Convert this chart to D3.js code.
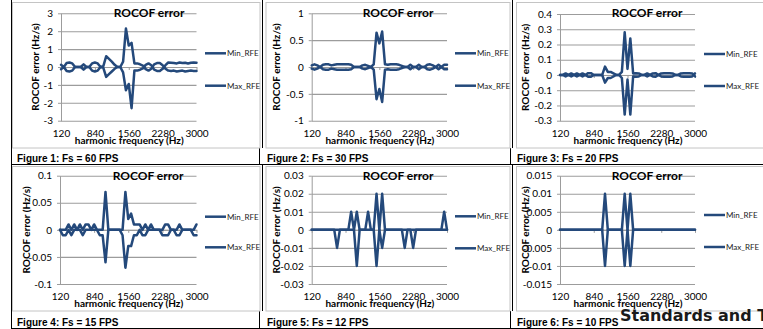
<!DOCTYPE html>
<html>
<meta charset="utf-8">
<head>
<script src="https://cdnjs.cloudflare.com/ajax/libs/d3/7.8.5/d3.min.js"></script>
<style>
  body { margin: 0; background: #fff; }
  svg { display: block; }
</style>
</head>
<body>
<script>
// harmonic frequency categories (Hz)
const freqs = [120, 180, 240, 300, 360, 420, 480, 540, 600, 660, 720, 780, 840, 900, 960, 1020,
  1080, 1140, 1200, 1260, 1320, 1380, 1440, 1500, 1560, 1620, 1680, 1740, 1800, 1860, 1920,
  1980, 2040, 2100, 2160, 2220, 2280, 2340, 2400, 2460, 2520, 2580, 2640, 2700, 2760, 2820,
  2880, 2940, 3000];
const xTickLabels = [120, 840, 1560, 2280, 3000];
const seriesNames = ["Min_RFE", "Max_RFE"];
const captions = ["Figure 1: Fs = 60 FPS", "Figure 2: Fs = 30 FPS", "Figure 3: Fs = 20 FPS",
  "Figure 4: Fs = 15 FPS", "Figure 5: Fs = 12 FPS", "Figure 6: Fs = 10 FPS"];

// Fs = 60
const max60 = [0.12, 0, 0.22, 0.25, 0.2, 0, 0, 0, 0.15, 0, 0, 0.2, 0.25, 0.2, 0, 0.05,
  0.6, 0.45, 0.3, 0.12, 0, 0, 0.3, 2.15, 1.2, 1.35, 0.2, 0.2, 0.15, 0.08, -0.12, -0.2,
  -0.1, 0.15, 0.22, 0.22, 0.1, -0.1, -0.2, -0.22, -0.2, -0.25, -0.22, -0.2, -0.25, -0.22,
  -0.2, -0.22, -0.22];
const min60 = [-0.12, 0, -0.22, -0.25, -0.2, 0, 0, 0, -0.15, 0, 0, -0.2, -0.25, -0.2, 0, -0.05,
  -0.55, -0.4, -0.25, -0.1, 0, 0, -0.3, -1.3, -0.95, -2.3, -0.2, -0.2, -0.15, -0.08, 0.12, 0.2,
  0.1, -0.15, -0.22, -0.22, -0.1, 0.1, 0.25, 0.24, 0.22, 0.2, 0.25, 0.22, 0.24, 0.2,
  0.24, 0.25, 0.24];
// Fs = 30
const max30 = [0.03, 0.05, 0.03, 0, 0.04, 0.05, 0.05, 0.03, 0.04, 0.05, 0.05, 0.05, 0.05, 0.05, 0.04, 0,
  0, 0, 0.03, 0.04, 0.02, 0, 0.05, 0.64, 0.44, 0.66, 0.05, 0.04, 0.05, 0.05, 0.05, 0.04,
  0.02, 0, 0, 0.04, 0, 0, 0.04, 0, 0, 0.04, 0.05, 0.03, 0, 0.04, 0, 0.04, 0.04];
const min30 = [-0.03, -0.05, -0.03, 0, -0.04, -0.05, -0.05, -0.03, -0.04, -0.05, -0.05, -0.05, -0.05, -0.05, -0.04, 0,
  0, 0, -0.03, -0.04, -0.02, 0, -0.05, -0.6, -0.41, -0.65, -0.05, -0.04, -0.05, -0.05, -0.05, -0.04,
  -0.02, 0, 0, -0.04, 0, 0, -0.04, 0, 0, -0.04, -0.05, -0.03, 0, -0.04, 0, -0.04, -0.04];
// Fs = 20
const max20 = [0, 0, 0.01, 0, 0.01, 0, 0.01, 0, 0.01, 0, 0.012, 0.012, 0, 0, 0, 0,
  0.055, 0.02, 0.02, 0.01, 0, 0, 0.02, 0.28, 0.04, 0.24, 0.01, 0.012, 0.01, 0, 0, 0.01,
  0, 0.01, 0.012, 0, 0.01, 0.012, 0.012, 0.012, 0.01, 0, 0, 0.01, 0.012, 0.012, 0.012, 0.01, -0.01];
const min20 = [0, 0, -0.01, 0, -0.01, 0, -0.01, 0, -0.01, 0, -0.012, -0.012, 0, 0, 0, 0,
  -0.05, -0.02, -0.02, -0.01, 0, 0, -0.02, -0.26, -0.03, -0.26, -0.01, -0.012, -0.01, 0, 0, -0.01,
  0, -0.01, -0.012, 0, -0.01, -0.012, -0.012, -0.012, -0.01, 0, 0, -0.01, -0.012, -0.012, -0.012, -0.01, 0.01];
// Fs = 15
const max15 = [0, 0, 0, 0.01, 0, 0.01, 0, 0.01, 0, 0.01, 0.01, 0, 0.01, 0, 0, 0,
  0.07, 0, 0, 0, 0, 0, 0, 0.07, 0.02, 0.03, 0.01, 0.01, 0.01, 0, 0.01, 0,
  0.01, 0, 0, 0, 0, 0.01, 0.01, 0, 0, 0, 0.01, 0, 0, 0, 0, 0, 0.01];
const min15 = [0, -0.01, -0.01, 0, -0.01, 0, 0, 0, -0.01, 0, 0, 0, 0, 0, -0.01, -0.01,
  -0.06, 0, 0, 0, 0, 0, -0.01, -0.07, -0.03, -0.03, -0.01, -0.01, 0, -0.01, -0.01, 0,
  0, 0, 0, 0, -0.01, -0.01, -0.01, 0, 0, -0.01, -0.01, 0, 0, 0, 0, -0.01, -0.01];
// Fs = 12
const max12 = [0, 0, 0, 0, 0, 0, 0, 0, 0, 0, 0, 0, 0, 0, 0.01, 0,
  0.01, 0, 0, 0, 0.01, 0, 0, 0.02, 0, 0.02, 0, 0, 0, 0, 0, 0,
  0, 0, 0, 0, 0, 0, 0, 0, 0, 0, 0, 0, 0, 0, 0, 0.01, 0];
const min12 = [0, 0, 0, 0, 0, 0, 0, 0, 0, -0.01, 0, 0, 0, 0, 0, 0,
  -0.02, 0, 0, 0, 0, 0, 0, -0.02, 0, -0.01, 0, 0, 0, 0, 0, 0,
  0, -0.01, 0, 0, -0.01, 0, 0, 0, 0, 0, 0, 0, 0, 0, 0, 0, 0];
// Fs = 10
const max10 = [0, 0, 0, 0, 0, 0, 0, 0, 0, 0, 0, 0, 0, 0, 0, 0,
  0.01, 0, 0, 0, 0, 0, 0, 0.01, 0, 0.01, 0, 0, 0, 0, 0, 0,
  0, 0, 0, 0, 0, 0, 0, 0, 0, 0, 0, 0, 0, 0, 0, 0, 0];
const min10 = [0, 0, 0, 0, 0, 0, 0, 0, 0, 0, 0, 0, 0, 0, 0, 0,
  -0.01, 0, 0, 0, 0, 0, 0, -0.01, 0, -0.01, 0, 0, 0, 0, 0, 0,
  0, 0, 0, 0, 0, 0, 0, 0, 0, 0, 0, 0, 0, 0, 0, 0, 0];

const yTicks60 = [-3, -2, -1, 0, 1, 2, 3];
const yTicks30 = [-1, -0.5, 0, 0.5, 1];
const yTicks20 = [-0.3, -0.2, -0.1, 0, 0.1, 0.2, 0.3, 0.4];
const yTicks15 = [-0.1, -0.05, 0, 0.05, 0.1];
const yTicks12 = [-0.03, -0.02, -0.01, 0, 0.01, 0.02, 0.03];
const yTicks10 = [-0.015, -0.01, -0.005, 0, 0.005, 0.01, 0.015];

const W = 763, H = 329;
const lineColor = "#24497b";
const gridColor = "#9c9c9c";
const chartFont = "Lato, 'Noto Sans', sans-serif";

const svg = d3.select("body").append("svg")
  .attr("width", W)
  .attr("height", H);

// table rules
const table = svg.append("g").attr("stroke", "#000").attr("stroke-width", 1);
table.append("line").attr("x1", 11.5).attr("x2", 11.5).attr("y1", 0).attr("y2", 329);
[[0, 148], [165, 311]].forEach(r => {
  [262.5, 512.5].forEach(xx => table.append("line").attr("x1", xx).attr("x2", xx).attr("y1", r[0]).attr("y2", r[1]));
});
[[148, 164], [311, 328]].forEach(r => {
  [259.5, 510.5].forEach(xx => table.append("line").attr("x1", xx).attr("x2", xx).attr("y1", r[0]).attr("y2", r[1]));
});
table.append("line").attr("x1", 11).attr("x2", W).attr("y1", 164.5).attr("y2", 164.5);
table.append("line").attr("x1", 11).attr("x2", W).attr("y1", 328.5).attr("y2", 328.5);

const panels = [
  {left: 61, right: 196.5, top: 13.3, bottom: 120.7, titleX: 149, titleY: 12.7, yTitleX: 35, legX: 205, legY: [53.3, 85.7], frame: [12, 2, 259.5, 147.5], xLabY: 133, xTitY: 140, capX: 17, capY: 161.5},
  {left: 311.7, right: 447, top: 13.3, bottom: 120.7, titleX: 398, titleY: 12.7, yTitleX: 276.7, legX: 455, legY: [53.3, 85.7], frame: [265.5, 2, 509.5, 147.5], xLabY: 133, xTitY: 140, capX: 267, capY: 161.5},
  {left: 560, right: 695, top: 14, bottom: 120.7, titleX: 647, titleY: 12.7, yTitleX: 525, legX: 704, legY: [54, 86], frame: [516, 2, 775, 147.5], xLabY: 133, xTitY: 140, capX: 517, capY: 161.5},
  {left: 60, right: 196.5, top: 175.7, bottom: 284, titleX: 148, titleY: 175.7, yTitleX: 26, legX: 205, legY: [216.7, 247.3], frame: [12, 166, 259.5, 310.5], xLabY: 296.5, xTitY: 303.5, capX: 17, capY: 325.5},
  {left: 311.7, right: 447, top: 175.7, bottom: 284, titleX: 398, titleY: 175.7, yTitleX: 276, legX: 455, legY: [216.3, 248.3], frame: [265.5, 166, 509.5, 310.5], xLabY: 296.5, xTitY: 303.5, capX: 267, capY: 325.5},
  {left: 560, right: 695, top: 175.7, bottom: 284, titleX: 647, titleY: 175.7, yTitleX: 525.5, legX: 704, legY: [215, 247], frame: [516, 166, 775, 310.5], xLabY: 296.5, xTitY: 303.5, capX: 517, capY: 325.5}
];

const charts = [
  [max60, min60, yTicks60], [max30, min30, yTicks30], [max20, min20, yTicks20],
  [max15, min15, yTicks15], [max12, min12, yTicks12], [max10, min10, yTicks10]
];

const fmt = v => String(+v.toFixed(4));

charts.forEach((c, i) => drawChart(panels[i], c[0], c[1], c[2], captions[i]));

function drawChart(p, maxVals, minVals, yTicks, caption) {
  const g = svg.append("g");
  const f = p.frame;
  g.append("rect")
    .attr("x", f[0] + 0.5).attr("y", f[1] + 0.5)
    .attr("width", f[2] - f[0]).attr("height", f[3] - f[1])
    .attr("fill", "none").attr("stroke", "#c4c4c4");

  const x = d3.scalePoint().domain(freqs).range([p.left, p.right]);
  const y = d3.scaleLinear().domain([yTicks[0], yTicks[yTicks.length - 1]]).range([p.bottom, p.top]);
  const plotW = p.right - p.left;

  // gridlines
  const grid = g.append("g").attr("transform", `translate(${p.left},0)`)
    .call(d3.axisLeft(y).tickValues(yTicks).tickSize(-plotW).tickFormat(""));
  grid.select(".domain").remove();
  grid.selectAll("line").attr("stroke", gridColor).attr("stroke-width", 1.1);

  // y axis with labels
  const ya = g.append("g").attr("transform", `translate(${p.left},0)`)
    .call(d3.axisLeft(y).tickValues(yTicks).tickSizeInner(3).tickSizeOuter(0).tickPadding(5).tickFormat(fmt));
  ya.select(".domain").attr("stroke", gridColor);
  ya.selectAll("line").attr("stroke", gridColor);
  ya.selectAll("text").attr("font-family", chartFont).attr("font-size", 10).attr("fill", "#000");

  // category axis crossing at zero
  const za = g.append("g").attr("transform", `translate(0,${y(0)})`)
    .call(d3.axisBottom(x).tickValues(xTickLabels).tickSizeInner(3).tickSizeOuter(0).tickFormat(""));
  za.select(".domain").attr("stroke", gridColor);
  za.selectAll("line").attr("stroke", gridColor);

  // category labels at the bottom
  const xa = g.append("g").attr("transform", `translate(0,${p.xLabY})`)
    .call(d3.axisBottom(x).tickValues(xTickLabels).tickSize(0).tickPadding(0));
  xa.select(".domain").remove();
  xa.selectAll("text").attr("y", 0).attr("dy", "0.35em")
    .attr("font-family", chartFont).attr("font-size", 10).attr("fill", "#000");

  // series lines
  const line = d3.line().x((d, j) => x(freqs[j])).y(d => y(d));
  [minVals, maxVals].forEach(vals => {
    g.append("path").datum(vals)
      .attr("d", line)
      .attr("fill", "none")
      .attr("stroke", lineColor)
      .attr("stroke-width", 2.5)
      .attr("stroke-linejoin", "round")
      .attr("stroke-linecap", "round");
  });

  // titles
  g.append("text").attr("x", p.titleX).attr("y", p.titleY).attr("dy", "0.35em")
    .attr("text-anchor", "middle").attr("font-family", chartFont)
    .attr("font-weight", "bold").attr("font-size", 12).text("ROCOF error");
  g.append("text").attr("x", (p.left + p.right) / 2 + 0.5).attr("y", p.xTitY).attr("dy", "0.35em")
    .attr("text-anchor", "middle").attr("font-family", chartFont)
    .attr("font-weight", "bold").attr("font-size", 10).text("harmonic frequency (Hz)");
  g.append("text")
    .attr("transform", `translate(${p.yTitleX},${(p.top + p.bottom) / 2}) rotate(-90)`)
    .attr("dy", "0.35em").attr("text-anchor", "middle").attr("font-family", chartFont)
    .attr("font-weight", "bold").attr("font-size", 10).text("ROCOF error (Hz/s)");

  // legend
  seriesNames.forEach((name, k) => {
    const ly = p.legY[k];
    g.append("line").attr("x1", p.legX).attr("x2", p.legX + 21).attr("y1", ly).attr("y2", ly)
      .attr("stroke", lineColor).attr("stroke-width", 2.5);
    g.append("text").attr("x", p.legX + 22).attr("y", ly).attr("dy", "0.35em")
      .attr("font-family", chartFont).attr("font-size", 8).attr("fill", "#222").text(name);
  });

  // caption
  g.append("text").attr("x", p.capX).attr("y", p.capY)
    .attr("font-family", "'Liberation Sans', Arial, sans-serif").attr("font-weight", "bold")
    .attr("font-size", 10).attr("fill", "#000").text(caption);
}

svg.append("text").attr("x", 620).attr("y", 321)
  .attr("font-family", "'DejaVu Sans', Verdana, sans-serif").attr("font-weight", "bold")
  .attr("font-size", 16).attr("fill", "#1a1a1a").text("Standards and T");
</script>
</body>
</html>
